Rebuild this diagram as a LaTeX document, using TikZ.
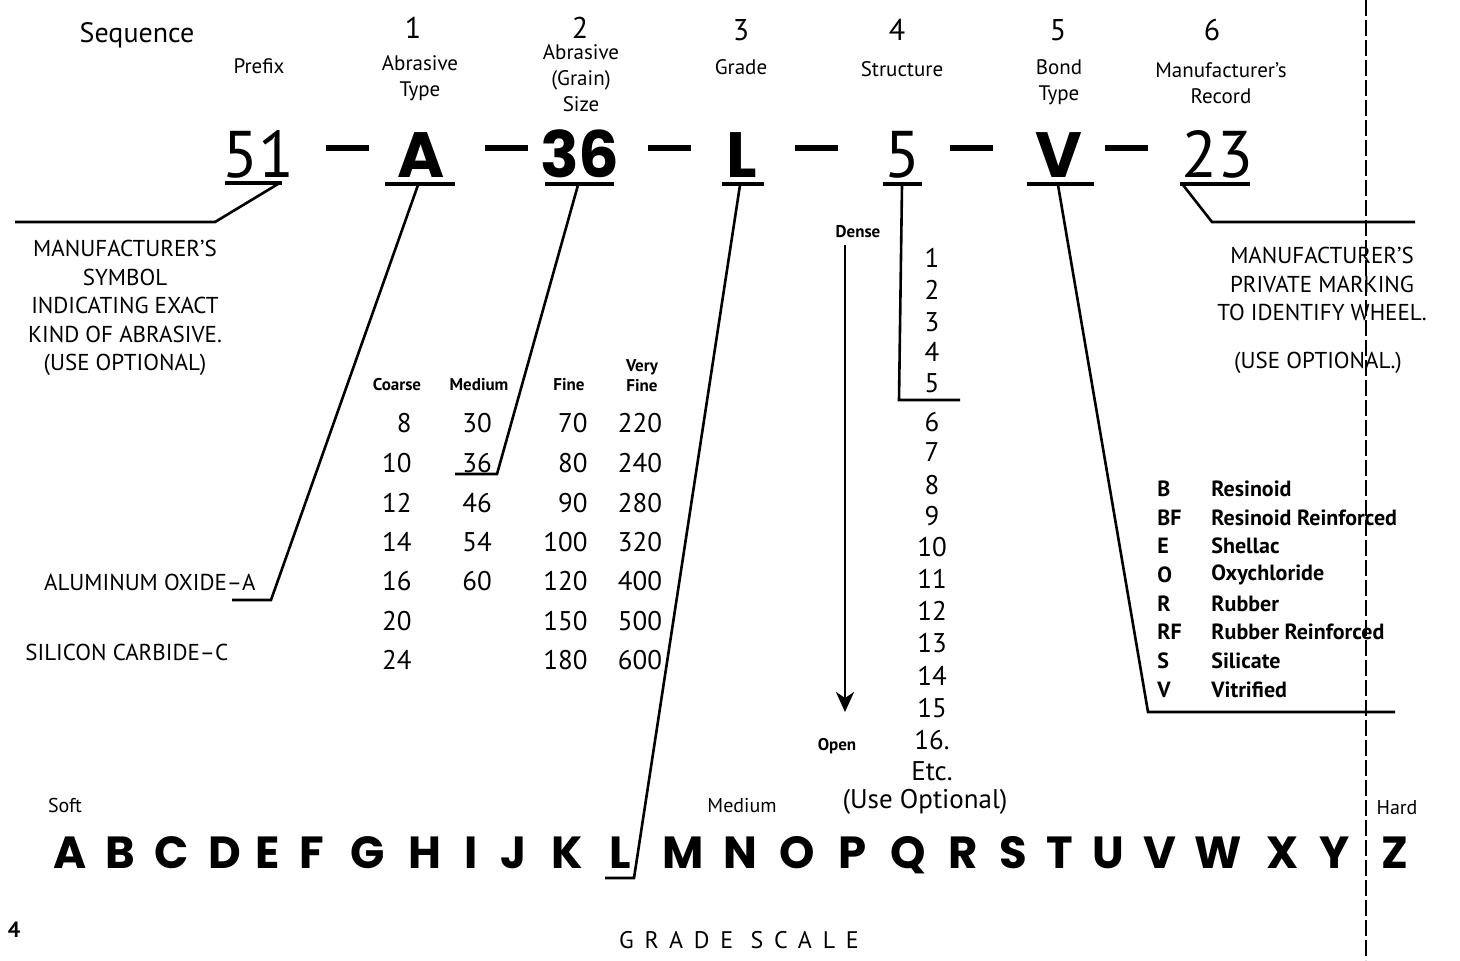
\documentclass[tikz,border=0pt]{standalone}
\usepackage{fontspec}
\setmainfont{PT Sans}
\newfontfamily\bigf{Poppins}
\newfontfamily\spacedf[LetterSpace=45]{PT Sans}
\usetikzlibrary{arrows.meta}
\tikzset{
  lbl/.style={inner sep=0pt, align=center, font=\fontsize{10.5}{13}\selectfont},
  seqn/.style={inner sep=0pt, font=\fontsize{15}{15}\selectfont},
  bigb/.style={inner sep=0pt, anchor=base, font=\bigf\bfseries\fontsize{32}{32}\selectfont},
  bigt/.style={inner sep=0pt, anchor=base, font=\fontsize{33}{33}\selectfont},
  dashbar/.style={inner sep=0pt, minimum width=21.5pt, minimum height=2.8pt, fill=black},
  caps/.style={inner sep=0pt, align=center, font=\fontsize{11.5}{14.2}\selectfont},
  hdr/.style={inner sep=0pt, align=center, font=\bfseries\fontsize{8.5}{10}\selectfont},
  num/.style={inner sep=0pt, font=\fontsize{13.5}{14}\selectfont},
  bond/.style={inner sep=0pt, anchor=west, font=\bfseries\fontsize{11}{12}\selectfont},
  grade/.style={inner sep=0pt, anchor=base, font=\bigf\bfseries\fontsize{22.5}{24}\selectfont},
  uline/.style={line width=2pt},
  lead/.style={line width=1.3pt},
}
\begin{document}
\begin{tikzpicture}[x=0.5pt,y=-0.5pt]
\useasboundingbox (0,0) rectangle (1460,960);

% ---- header row ----
\node[inner sep=0pt, font=\fontsize{14}{14}\selectfont] (seq) at (137,35) {Sequence};
\node[seqn] (s1) at (413,28) {1};
\node[seqn] (s2) at (580,28) {2};
\node[seqn] (s3) at (741,30) {3};
\node[seqn] (s4) at (897,30) {4};
\node[seqn] (s5) at (1058,30) {5};
\node[seqn] (s6) at (1212,30) {6};

\node[lbl] (hpre) at (259,66) {Prefix};
\node[lbl] (habr) at (420,78) {Abrasive\\Type};
\node[lbl] (hsize) at (581,78) {Abrasive\\(Grain)\\Size};
\node[lbl] (hgrade) at (741,67) {Grade};
\node[lbl] (hstr) at (902,69) {Structure};
\node[lbl] (hbond) at (1059,82) {Bond\\Type};
\node[lbl] (hrec) at (1221,83) {Manufacturer's\\Record};

% ---- marking ----
\node[bigt] (m51) at (258,177) {51};
\node[dashbar] (d1) at (347,148) {};
\node[bigb] (mA) at (421,177) {A};
\node[dashbar] (d2) at (506,148) {};
\node[bigb] (m36) at (580,177) {36};
\node[dashbar] (d3) at (669,148) {};
\node[bigb] (mL) at (742,177) {L};
\node[dashbar] (d4) at (816,148) {};
\node[bigt] (m5) at (902,177) {5};
\node[dashbar] (d5) at (971,148) {};
\node[bigb] (mV) at (1059,177) {V};
\node[dashbar] (d6) at (1126,148) {};
\node[bigt] (m23) at (1217,177) {23};

% underlines
\draw[uline] (225,183) -- (282,183);
\draw[uline] (385,184) -- (455,184);
\draw[uline] (545,184) -- (614,184);
\draw[uline] (722,184) -- (764,184);
\draw[uline] (883,184) -- (922,184);
\draw[uline] (1027,184) -- (1094,184);
\draw[uline] (1180,184) -- (1250,184);

% ---- left text ----
\node[caps] (msym) at (125,308) {MANUFACTURER'S\\SYMBOL\\INDICATING EXACT\\KIND OF ABRASIVE.\\(USE OPTIONAL)};
\node[caps, anchor=east] (alox) at (256,582) {ALUMINUM OXIDE--A};
\node[caps, anchor=west] (sic) at (25,652) {SILICON CARBIDE--C};

% ---- grain size table ----
\node[hdr] (hco) at (397,385) {Coarse};
\node[hdr] (hme) at (479,385) {Medium};
\node[hdr] (hfi) at (569,385) {Fine};
\node[hdr] (hvf) at (642,376) {Very\\Fine};
\foreach \v/\y [count=\i] in {8/423,10/463,12/503,14/542,16/581,20/621,24/660}
  \node[num, anchor=east] (co\i) at (412,\y) {\v};
\foreach \v/\y [count=\i] in {30/423,36/463,46/503,54/542,60/581}
  \node[num] (me\i) at (477,\y) {\v};
\foreach \v/\y [count=\i] in {70/423,80/463,90/503,100/542,120/581,150/621,180/660}
  \node[num, anchor=east] (fi\i) at (588,\y) {\v};
\foreach \v/\y [count=\i] in {220/423,240/463,280/503,320/542,400/581,500/621,600/660}
  \node[num] (vf\i) at (640,\y) {\v};

% ---- structure ----
\node[hdr] (dense) at (858,232) {Dense};
\node[hdr] (open) at (837,746) {Open};
\coordinate (arS) at (845,245);
\coordinate (arE) at (845,712);
\draw[line width=1.4pt, -{Stealth[length=10pt,width=9pt,inset=3pt]}] (arS) -- (arE);
\foreach \v/\y [count=\i] in {1/258,2/290,3/322,4/352,5/383,6/422,7/452,8/485,9/516,10/547,11/579,12/611,13/643,14/676,15/708,16./740,Etc./771}
  \node[num] (st\i) at (932,\y) {\v};
\node[num] (useopt) at (925,802) {(Use Optional)};

% ---- right text ----
\node[caps] (mpriv) at (1322,284) {MANUFACTURER'S\\PRIVATE MARKING\\TO IDENTIFY WHEEL.};
\node[caps] (useopt2) at (1318,363) {(USE OPTIONAL.)};

% ---- bond list ----
\foreach \a/\b/\y [count=\i] in {B/Resinoid/489,BF/Resinoid Reinforced/518,E/Shellac/546,O/Oxychloride/575,R/Rubber/604,RF/Rubber Reinforced/632,S/Silicate/661,V/Vitrified/690}{
  \node[bond] (bl\i) at (1157,\y) {\a};
  \node[bond] (bn\i) at (1211,\y) {\b};
}

% ---- grade scale ----
\node[hdr, font=\fontsize{10}{10}\selectfont] (soft) at (65,805) {Soft};
\node[hdr, font=\fontsize{10}{10}\selectfont] (gmed) at (742,806) {Medium};
\node[hdr, font=\fontsize{10}{10}\selectfont] (hard) at (1397,808) {Hard};
\foreach \l/\x in {A/70,B/120,C/172,D/225,E/268,F/312,G/368,H/425,I/471,J/513,K/567,L/620,M/683,N/740,O/797,P/853,Q/908,R/963,S/1013,T/1060,U/1108,V/1160,W/1218,X/1283,Y/1335,Z/1395}
  \node[grade] (g\l) at (\x,868) {\l};
\node[inner sep=0pt, font=\spacedf\fontsize{12}{12}\selectfont] (gscale) at (739,940) {GRADE SCALE};
\node[inner sep=0pt, font=\bfseries\fontsize{11}{11}\selectfont] (pg) at (14,930) {4};

% ---- leaders ----
\draw[lead] (278,184) -- (215,222) -- (15,222);
\draw[lead] (418,185) -- (271,600) -- (232,600);
\draw[lead] (578,185) -- (497,474) -- (455,474);
\draw[lead] (740,185) -- (634,878) -- (605,878);
\draw[lead] (902,185) -- (899,400) -- (960,400);
\draw[lead] (1058,185) -- (1148,712) -- (1395,712);
\draw[lead] (1183,185) -- (1212,222) -- (1415,222);

% fold line of the scan
\draw[line width=0.7pt, dash pattern=on 8pt off 2pt] (1366,0) -- (1366,960);
\end{tikzpicture}
\end{document}
